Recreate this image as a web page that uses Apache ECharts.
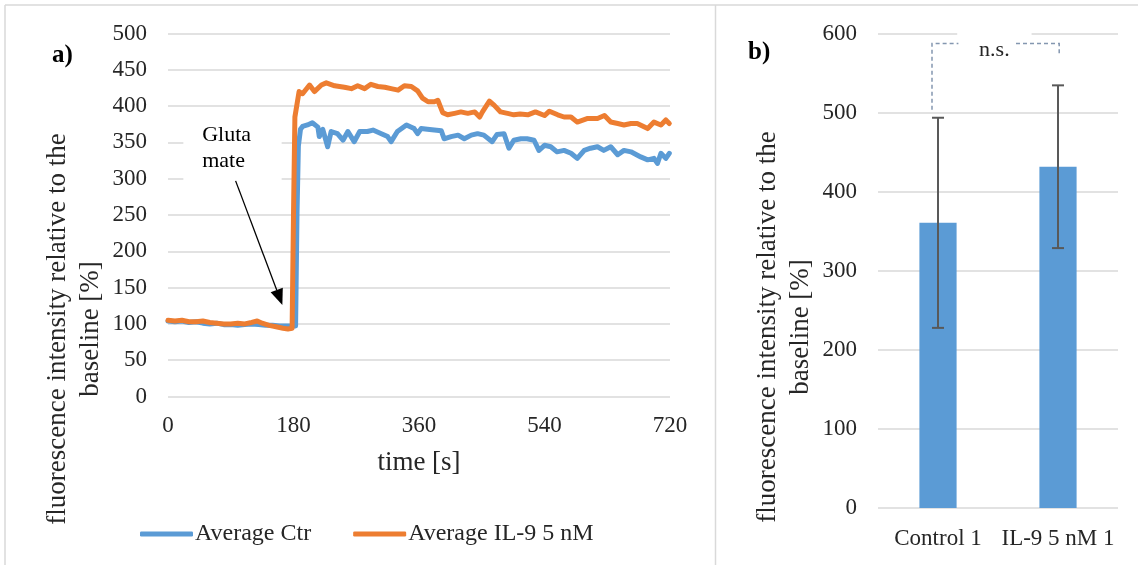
<!DOCTYPE html>
<html>
<head>
<meta charset="utf-8">
<script src="https://cdn.jsdelivr.net/npm/echarts@6/dist/echarts.min.js"></script>
<style>
  html, body { margin: 0; padding: 0; background: #fff; }
  #chart { width: 1138px; height: 565px; }
</style>
</head>
<body>
<div id="chart"></div>
<script>
// Panel a) time course, control cells
const ctrTime = [0, 10, 20, 30, 40, 50, 60, 70, 80, 90, 100, 110, 120, 130, 140, 150, 160, 170, 180, 183,
  185, 187, 190, 193, 200, 207, 215, 217, 222, 229, 234, 243, 251, 258, 267, 275, 286, 294, 306, 315,
  320, 329, 342, 353, 358, 363, 372, 382, 392, 396, 406, 416, 425, 435, 444, 453, 465, 472, 482, 489,
  496, 506, 515, 525, 532, 540, 549, 558, 568, 578, 587, 597, 606, 616, 625, 635, 645, 654, 664, 678,
  688, 697, 702, 707, 714, 719];
const ctrValue = [104, 103, 104, 102, 103, 101, 100, 101, 99, 99, 98, 99, 100, 99, 98, 98, 97, 97, 97, 97,
  250, 345, 368, 372, 374, 377, 371, 358, 368, 344, 365, 362, 353, 365, 351, 365, 365, 367, 362, 358,
  351, 365, 374, 369, 362, 369, 368, 367, 366, 355, 358, 360, 355, 360, 362, 360, 351, 361, 362, 342,
  353, 355, 355, 353, 339, 346, 344, 337, 339, 335, 328, 339, 342, 344, 339, 344, 333, 339, 337, 330,
  326, 328, 321, 335, 328, 335];

// Panel a) time course, IL-9 treated cells
const il9Time = [0, 10, 20, 30, 40, 50, 60, 70, 80, 90, 100, 110, 120, 128, 135, 145, 155, 165, 172, 178,
  180, 182, 188, 193, 203, 210, 220, 227, 239, 253, 263, 272, 282, 291, 301, 311, 320, 330, 339, 349,
  358, 365, 373, 382, 387, 394, 401, 411, 420, 430, 440, 447, 451, 461, 468, 477, 487, 496, 505, 516,
  527, 540, 547, 559, 568, 578, 587, 602, 616, 626, 635, 645, 654, 664, 673, 688, 697, 707, 714, 719];
const il9Value = [105, 104, 105, 103, 103, 104, 102, 101, 100, 100, 101, 100, 102, 104, 101, 98, 96, 94, 93, 94,
  250, 385, 420, 417, 429, 420, 429, 432, 428, 426, 424, 428, 424, 430, 427, 426, 424, 422, 428, 427,
  421, 411, 406, 406, 408, 391, 388, 390, 392, 390, 392, 385, 392, 407, 401, 392, 390, 388, 389, 388,
  392, 387, 393, 388, 385, 385, 378, 383, 383, 387, 378, 376, 374, 376, 376, 369, 378, 374, 381, 376];

// Panel b) mean response with standard deviation
const barNames = ['Control 1', 'IL-9 5 nM 1'];
const barValues = [361, 432];
const barErrors = [133, 103];

const timeTicks = { min: 0, max: 720, step: 180 };
const responseTicksA = { min: 0, max: 500, step: 50 };
const responseTicksB = { min: 0, max: 600, step: 100 };

const FONT = "'Liberation Serif', 'Times New Roman', serif";
const TEXT = '#262626';
const GRID_LINE = '#d9d9d9';
const BLUE = '#5B9BD5';
const ORANGE = '#ED7D31';
const yName = 'fluorescence intensity relative to the\nbaseline [%]';

const zip = (a, b) => a.map((v, i) => [v, b[i]]);

const chart = echarts.init(document.getElementById('chart'), null, { renderer: 'canvas' });

const option = {
  animation: false,
  backgroundColor: '#ffffff',
  textStyle: { fontFamily: FONT, color: TEXT },
  grid: [
    { left: 168, top: 33.5, width: 502, height: 363 },
    { left: 878, top: 34, width: 240, height: 474 }
  ],
  legend: {
    left: 135, top: 517,
    icon: 'roundRect', itemWidth: 53, itemHeight: 5, itemGap: 42,
    textStyle: { fontFamily: FONT, fontSize: 24, color: TEXT, padding: [0, 0, 0, -3] },
    data: ['Average Ctr', 'Average IL-9 5 nM']
  },
  xAxis: [
    {
      type: 'value', gridIndex: 0,
      min: timeTicks.min, max: timeTicks.max, interval: timeTicks.step,
      name: 'time [s]', nameLocation: 'middle', nameGap: 53,
      nameTextStyle: { fontFamily: FONT, fontSize: 27, color: TEXT },
      axisLine: { show: false }, axisTick: { show: false }, splitLine: { show: false },
      axisLabel: { margin: 18, fontFamily: FONT, fontSize: 23, color: TEXT }
    },
    {
      type: 'category', gridIndex: 1, data: barNames,
      axisLine: { show: false }, axisTick: { show: false },
      axisLabel: { margin: 19, fontFamily: FONT, fontSize: 23, color: TEXT, interval: 0 }
    }
  ],
  yAxis: [
    {
      type: 'value', gridIndex: 0,
      min: responseTicksA.min, max: responseTicksA.max, interval: responseTicksA.step,
      axisLine: { show: false }, axisTick: { show: false },
      axisLabel: { margin: 21, fontFamily: FONT, fontSize: 23, color: TEXT },
      splitLine: { lineStyle: { color: GRID_LINE, width: 1.5 } }
    },
    {
      type: 'value', gridIndex: 1,
      min: responseTicksB.min, max: responseTicksB.max, interval: responseTicksB.step,
      axisLine: { show: false }, axisTick: { show: false },
      axisLabel: { margin: 21, fontFamily: FONT, fontSize: 23, color: TEXT },
      splitLine: { lineStyle: { color: GRID_LINE, width: 1.5 } }
    }
  ],
  series: [
    {
      name: 'Average Ctr', type: 'line', xAxisIndex: 0, yAxisIndex: 0,
      data: zip(ctrTime, ctrValue), showSymbol: false, symbol: 'none',
      lineStyle: { color: BLUE, width: 5, join: 'round', cap: 'round' },
      itemStyle: { color: BLUE }, z: 2
    },
    {
      name: 'Average IL-9 5 nM', type: 'line', xAxisIndex: 0, yAxisIndex: 0,
      data: zip(il9Time, il9Value), showSymbol: false, symbol: 'none',
      lineStyle: { color: ORANGE, width: 5, join: 'round', cap: 'round' },
      itemStyle: { color: ORANGE }, z: 3
    },
    {
      name: 'response', type: 'bar', xAxisIndex: 1, yAxisIndex: 1,
      data: barValues, barWidth: '31%',
      itemStyle: { color: BLUE }
    },
    {
      name: 'sd', type: 'custom', xAxisIndex: 1, yAxisIndex: 1,
      data: barValues.map((v, i) => [i, v - barErrors[i], v + barErrors[i]]),
      encode: { x: 0, y: [1, 2] }, z: 5,
      renderItem: function (params, api) {
        const lo = api.coord([api.value(0), api.value(1)]);
        const hi = api.coord([api.value(0), api.value(2)]);
        const hw = 6;
        const st = { stroke: '#595959', lineWidth: 2 };
        return {
          type: 'group',
          children: [
            { type: 'line', shape: { x1: lo[0], y1: lo[1], x2: hi[0], y2: hi[1] }, style: st },
            { type: 'line', shape: { x1: lo[0] - hw, y1: lo[1], x2: lo[0] + hw, y2: lo[1] }, style: st },
            { type: 'line', shape: { x1: hi[0] - hw, y1: hi[1], x2: hi[0] + hw, y2: hi[1] }, style: st }
          ]
        };
      }
    }
  ]
};

chart.setOption(option);

// Annotations placed in the data space of each panel
const pa = (t, v) => chart.convertToPixel({ gridIndex: 0 }, [t, v]);
const catX0 = chart.convertToPixel({ gridIndex: 1 }, [0, 0])[0];
const catX1 = chart.convertToPixel({ gridIndex: 1 }, [1, 0])[0];
// fractional position between the two bar categories
const pb = (f, v) => [catX0 + (catX1 - catX0) * f, chart.convertToPixel({ gridIndex: 1 }, [0, v])[1]];

const boxTL = pa(22, 384), boxBR = pa(163, 282);
const labelPos = pa(49, 342);
const arrowFrom = pa(97, 297), arrowTip = pa(164, 126);
const dx = arrowTip[0] - arrowFrom[0], dy = arrowTip[1] - arrowFrom[1];
const len = Math.sqrt(dx * dx + dy * dy);
const ux = dx / len, uy = dy / len;
const headLen = 16, headHalf = 6.5;
const base = [arrowTip[0] - ux * headLen, arrowTip[1] - uy * headLen];

const brLeft = pb(-0.05, 504), brTop = pb(0, 588), brRight = pb(1.01, 572);
const nsPos = pb(0.47, 579);
const nsBoxA = pb(0.16, 608), nsBoxB = pb(0.78, 592);
const gapL = pb(0.17, 0)[0], gapR = pb(0.65, 0)[0];
const dashStyle = { stroke: '#8497B0', lineWidth: 1.5, lineDash: [4, 3], fill: null };

const titleStyle = { text: yName, font: '27px ' + FONT, lineHeight: 33, fill: TEXT, align: 'center', verticalAlign: 'middle' };

chart.setOption({
  graphic: [
    // panel frames
    { type: 'line', shape: { x1: 5, y1: 5, x2: 1138, y2: 5 }, style: { stroke: GRID_LINE, lineWidth: 1.5 } },
    { type: 'line', shape: { x1: 5, y1: 5, x2: 5, y2: 565 }, style: { stroke: GRID_LINE, lineWidth: 1.5 } },
    { type: 'line', shape: { x1: 715.5, y1: 5, x2: 715.5, y2: 565 }, style: { stroke: GRID_LINE, lineWidth: 1.5 } },
    // panel letters
    { type: 'text', left: 52, top: 43, style: { text: 'a)', font: 'bold 25px ' + FONT, fill: '#000' } },
    { type: 'text', left: 748, top: 40, style: { text: 'b)', font: 'bold 25px ' + FONT, fill: '#000' } },
    // vertical axis titles
    { type: 'text', x: 74, y: 329, rotation: Math.PI / 2, style: titleStyle },
    { type: 'text', x: 784, y: 327, rotation: Math.PI / 2, style: titleStyle },
    // glutamate label and arrow
    { type: 'rect', z: 1, shape: { x: boxTL[0], y: boxTL[1], width: boxBR[0] - boxTL[0], height: boxBR[1] - boxTL[1] },
      style: { fill: '#fff' } },
    { type: 'text', z: 6, x: labelPos[0], y: labelPos[1],
      style: { text: 'Gluta\nmate', font: '22px ' + FONT, lineHeight: 26, fill: '#000', verticalAlign: 'middle', align: 'left' } },
    { type: 'line', z: 6, shape: { x1: arrowFrom[0], y1: arrowFrom[1], x2: base[0], y2: base[1] },
      style: { stroke: '#000', lineWidth: 1.3 } },
    { type: 'polygon', z: 6, shape: { points: [
        arrowTip,
        [base[0] - uy * headHalf, base[1] + ux * headHalf],
        [base[0] + uy * headHalf, base[1] - ux * headHalf]
      ] }, style: { fill: '#000' } },
    // significance bracket
    { type: 'rect', z: 1, shape: { x: nsBoxA[0], y: nsBoxA[1], width: nsBoxB[0] - nsBoxA[0], height: nsBoxB[1] - nsBoxA[1] },
      style: { fill: '#fff' } },
    { type: 'polyline', z: 6, shape: { points: [[brLeft[0], brLeft[1]], [brLeft[0], brTop[1]], [gapL, brTop[1]]] },
      style: dashStyle },
    { type: 'polyline', z: 6, shape: { points: [[gapR, brTop[1]], [brRight[0], brTop[1]], [brRight[0], brRight[1]]] },
      style: dashStyle },
    { type: 'text', z: 6, x: nsPos[0], y: nsPos[1],
      style: { text: 'n.s.', font: '22px ' + FONT, fill: TEXT, align: 'center', verticalAlign: 'middle' } }
  ]
});
</script>
</body>
</html>
